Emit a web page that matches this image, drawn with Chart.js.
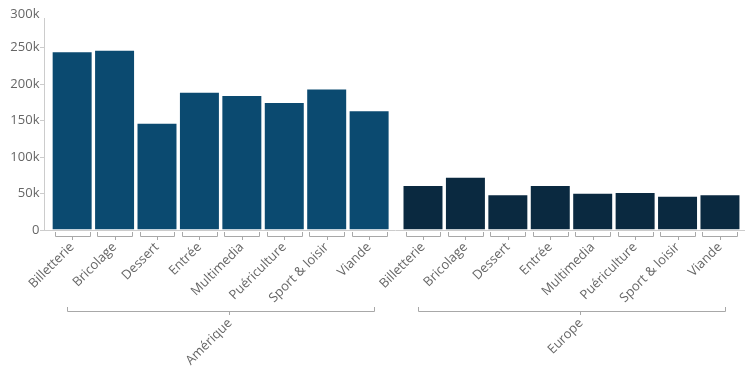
<!DOCTYPE html>
<html><head><meta charset="utf-8">
<script src="https://cdn.jsdelivr.net/npm/chart.js@4/dist/chart.umd.min.js"></script>
<style>html,body{margin:0;padding:0;background:#fff}canvas{display:block}</style>
</head><body>
<canvas id="c" width="745" height="369"></canvas>
<script>
const categories = ['Billetterie','Bricolage','Dessert','Entrée','Multimedia','Puériculture','Sport & loisir','Viande'];
const groups = ['Amérique','Europe'];
const ameriqueValues = [245000, 247000, 147000, 189500, 185000, 175500, 194000, 164000];
const europeValues = [61500, 73000, 49000, 61500, 51000, 52000, 47000, 49000];
const yTicks = [0, 50000, 100000, 150000, 200000, 250000, 300000];
const yTickLabels = ['0','50k','100k','150k','200k','250k','300k'];
const yAxisLineMax = 291000;
const colors = ['#0b4a70', '#0a2940'];

const GROUP_GAP = 0.27;
const BAR_PCT = 0.966;
const seriesValues = [ameriqueValues, europeValues];
const slot = (g, i) => g * (categories.length + GROUP_GAP) + i;
const allSlots = [];
groups.forEach((g, gi) => categories.forEach((c, i) => allSlots.push(slot(gi, i))));

Chart.defaults.font.family = '"Open Sans", sans-serif';

const datasets = groups.map((g, gi) => ({
  label: g,
  data: seriesValues[gi].map((v, i) => ({x: slot(gi, i), y: v})),
  backgroundColor: colors[gi],
  borderColor: 'rgba(255,255,255,0.5)',
  borderWidth: 1,
  grouped: false,
  barPercentage: BAR_PCT,
  categoryPercentage: 1
}));

const groupAxisPlugin = {
  id: 'groupAxis',
  afterDraw(chart) {
    const ctx = chart.ctx;
    const xs = chart.scales.x;
    const ys = chart.scales.y;
    const area = chart.chartArea;
    const bottom = area.bottom;
    const unit = Math.abs(xs.getPixelForValue(1) - xs.getPixelForValue(0));
    const half = unit * BAR_PCT / 2 - 3;
    const px = v => Math.round(v) + 0.5;
    ctx.save();
    // y axis line
    ctx.strokeStyle = '#cccccc';
    ctx.lineWidth = 1;
    ctx.beginPath();
    ctx.moveTo(px(area.left) - 1, Math.round(ys.getPixelForValue(yAxisLineMax)));
    ctx.lineTo(px(area.left) - 1, bottom);
    ctx.stroke();
    // y labels
    ctx.fillStyle = '#666666';
    ctx.font = '13px "Open Sans"';
    ctx.textAlign = 'right';
    ctx.textBaseline = 'middle';
    yTicks.forEach((v, i) => {
      const y = Math.max(ys.getPixelForValue(v), area.top + 3.5);
      ctx.fillText(yTickLabels[i], area.left - 5.5, y);
    });
    // x brackets and labels
    ctx.strokeStyle = '#a8a8a8';
    groups.forEach((g, gi) => {
      const centers = categories.map((c, i) => xs.getPixelForValue(slot(gi, i)));
      centers.forEach((cx, i) => {
        ctx.beginPath();
        ctx.moveTo(px(cx - half), bottom + 2);
        ctx.lineTo(px(cx - half), bottom + 6.5);
        ctx.lineTo(px(cx + half), bottom + 6.5);
        ctx.lineTo(px(cx + half), bottom + 2);
        ctx.moveTo(px(cx), bottom + 6.5);
        ctx.lineTo(px(cx), bottom + 10);
        ctx.stroke();
        ctx.save();
        ctx.translate(cx, bottom + 15);
        ctx.rotate(-Math.PI / 4);
        ctx.font = '13px "Open Sans"';
        ctx.textAlign = 'right';
        ctx.textBaseline = 'middle';
        ctx.fillText(categories[i], 0, 0);
        ctx.restore();
      });
      const first = centers[0], last = centers[centers.length - 1];
      const gl = first - 5, gr = last + 5;
      const gc = (first + last) / 2 + 8.5;
      const gy = bottom + 81;
      ctx.beginPath();
      ctx.moveTo(px(gl), gy - 4);
      ctx.lineTo(px(gl), gy + 0.5);
      ctx.lineTo(px(gr), gy + 0.5);
      ctx.lineTo(px(gr), gy - 4);
      ctx.moveTo(px(gc), gy + 0.5);
      ctx.lineTo(px(gc), gy + 4);
      ctx.stroke();
      ctx.save();
      ctx.translate(gc + 1, bottom + 91);
      ctx.rotate(-Math.PI / 4);
      ctx.font = '13px "Open Sans"';
      ctx.textAlign = 'right';
      ctx.textBaseline = 'middle';
      ctx.fillText(g, 0, 0);
      ctx.restore();
    });
    ctx.restore();
  }
};

new Chart(document.getElementById('c'), {
  type: 'bar',
  data: { datasets },
  options: {
    responsive: false,
    animation: false,
    layout: { padding: { top: 11, left: 0, right: 0, bottom: 0 } },
    plugins: { legend: { display: false }, tooltip: { enabled: false } },
    scales: {
      x: {
        type: 'linear',
        offset: false,
        min: -0.64,
        max: slot(groups.length - 1, categories.length - 1) + 0.59,
        afterBuildTicks: s => { s.ticks = allSlots.map(v => ({ value: v })); },
        ticks: { display: false },
        grid: { display: false },
        border: { display: true, color: '#cccccc' },
        afterFit: s => { s.height = 139; }
      },
      y: {
        min: 0,
        max: 300000,
        afterBuildTicks: s => { s.ticks = yTicks.map(v => ({ value: v })); },
        ticks: { display: false },
        grid: {
          display: true, drawOnChartArea: false, drawTicks: true, tickLength: 5,
          color: c => (c.tick && c.tick.value > yAxisLineMax) ? 'rgba(0,0,0,0)' : '#cccccc'
        },
        border: { display: false },
        afterFit: s => { s.width = 45; }
      }
    }
  },
  plugins: [groupAxisPlugin]
});
</script>
</body></html>
